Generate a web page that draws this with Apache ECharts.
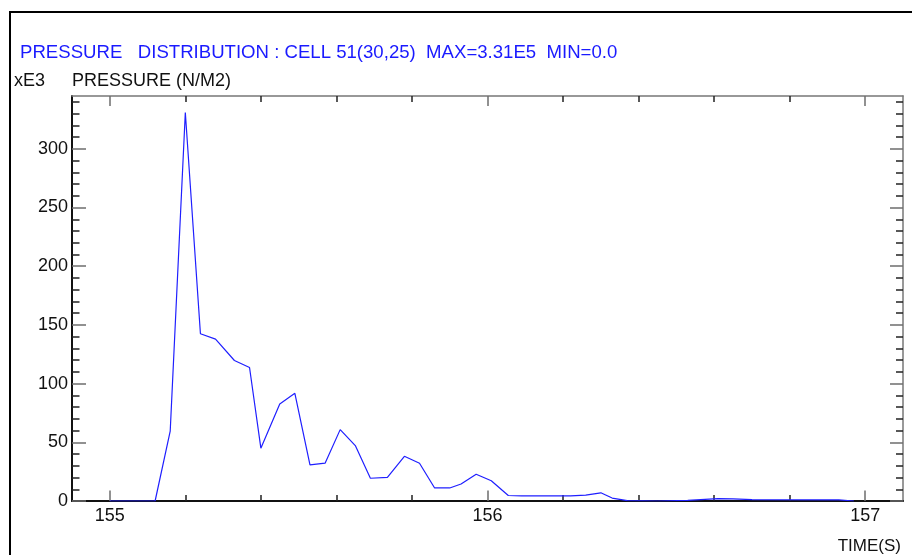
<!DOCTYPE html>
<html>
<head>
<meta charset="utf-8">
<script src="https://cdn.jsdelivr.net/npm/echarts@6/dist/echarts.min.js"></script>
<style>html,body{margin:0;padding:0;background:#fff;}#c{width:912px;height:555px;}</style>
</head>
<body>
<div id="c"></div>
<script>
// Time (s)
var timeS = [155.00, 155.12, 155.16, 155.20, 155.24, 155.28, 155.33, 155.37, 155.40, 155.45,
  155.49, 155.53, 155.57, 155.61, 155.65, 155.69, 155.735, 155.78, 155.82, 155.86,
  155.90, 155.93, 155.97, 156.01, 156.055, 156.09, 156.13, 156.17, 156.22, 156.26,
  156.30, 156.33, 156.37, 156.45, 156.53, 156.61, 156.65, 156.70, 156.93, 156.97];
// Pressure (xE3 N/M2)
var pressure = [0, 0, 59.6, 331, 142.5, 137.9, 119.7, 113.7, 45.0, 82.7,
  91.7, 30.7, 32.2, 60.8, 47.2, 19.4, 20.2, 38.1, 32.2, 11.1,
  11.1, 14.5, 22.8, 17.3, 4.7, 4.3, 4.3, 4.3, 4.3, 5.0,
  7.0, 2.5, 0.3, 0, 0.5, 2.0, 1.8, 1.2, 1.0, 0];
var xMajorTicks = [155, 156, 157];
var xMinorTicks = [155.2, 155.4, 155.6, 155.8, 156.2, 156.4, 156.6, 156.8];
var yMajorTicks = [0, 50, 100, 150, 200, 250, 300];
var yMinorTicks = [10, 20, 30, 40, 60, 70, 80, 90, 110, 120, 130, 140, 160, 170, 180, 190,
  210, 220, 230, 240, 260, 270, 280, 290, 310, 320, 330, 340];
var titleText = 'PRESSURE   DISTRIBUTION : CELL 51(30,25)  MAX=3.31E5  MIN=0.0';
var unitText = 'xE3';
var yNameText = 'PRESSURE (N/M2)';
var xNameText = 'TIME(S)';

var FONT = "'Liberation Sans', Arial, sans-serif";
var xMin = 154.9, xMax = 157.1, yMin = 0, yMax = 345;
var MAJ = '#6e6e6e', MIN = '#222';

function xAx(pos, ticks, len, color, showLine, lineColor, lineW, labels) {
  return {
    type: 'value', position: pos, min: xMin, max: xMax,
    axisLine: {show: showLine, onZero: false, lineStyle: {color: lineColor || '#000', width: lineW || 1}},
    axisTick: {show: true, inside: true, length: len, customValues: ticks, lineStyle: {color: color, width: 1.5}},
    axisLabel: labels ? {show: true, customValues: labels, fontSize: 18, color: '#111', fontFamily: FONT, margin: 6} : {show: false},
    splitLine: {show: false}
  };
}
function yAx(pos, ticks, len, color, showLine, lineColor, lineW, labels) {
  return {
    type: 'value', position: pos, min: yMin, max: yMax,
    axisLine: {show: showLine, onZero: false, lineStyle: {color: lineColor || '#000', width: lineW || 1}},
    axisTick: {show: true, inside: true, length: len, customValues: ticks, lineStyle: {color: color, width: 1.5}},
    axisLabel: labels ? {show: true, customValues: labels, fontSize: 18, color: '#111', fontFamily: FONT, margin: 4, padding: [0, 0, 3, 0]} : {show: false},
    splitLine: {show: false}
  };
}

var chart = echarts.init(document.getElementById('c'), null, {renderer: 'canvas'});
chart.setOption({
  animation: false,
  backgroundColor: '#fff',
  grid: {left: 72, top: 96, right: 9, bottom: 54, containLabel: false},
  xAxis: [
    xAx('bottom', xMajorTicks, 10.5, MAJ, true, '#111', 2, xMajorTicks),
    xAx('bottom', xMinorTicks, 6, MIN, false),
    xAx('top', xMajorTicks, 10, MAJ, true, '#777', 1.5),
    xAx('top', xMinorTicks, 6, MIN, false)
  ],
  yAxis: [
    yAx('left', yMajorTicks, 14, MAJ, true, '#111', 2, yMajorTicks),
    yAx('left', yMinorTicks, 7.5, MIN, false),
    yAx('right', yMajorTicks, 13, MAJ, true, '#777', 1.5),
    yAx('right', yMinorTicks, 7, MIN, false)
  ],
  series: [{
    type: 'line', xAxisIndex: 0, yAxisIndex: 0,
    data: timeS.map(function (t, i) { return [t, pressure[i]]; }),
    symbol: 'none', lineStyle: {color: '#1f1fff', width: 1.2}, z: 1
  }],
  graphic: [
    {type: 'rect', shape: {x: 10, y: 12, width: 1000, height: 1000}, style: {fill: null, stroke: '#000', lineWidth: 2}, silent: true},
    {type: 'text', x: 20, y: 53, style: {text: titleText, fill: '#1a1aff', font: '18.6px ' + FONT, textVerticalAlign: 'middle'}},
    {type: 'text', x: 14, y: 81, style: {text: unitText, fill: '#111', font: '18px ' + FONT, textVerticalAlign: 'middle'}},
    {type: 'text', x: 72, y: 81, style: {text: yNameText, fill: '#111', font: '18px ' + FONT, textVerticalAlign: 'middle'}},
    {type: 'text', x: 901, y: 546, style: {text: xNameText, fill: '#111', font: '17px ' + FONT, textAlign: 'right', textVerticalAlign: 'middle'}}
  ]
});
</script>
</body>
</html>
